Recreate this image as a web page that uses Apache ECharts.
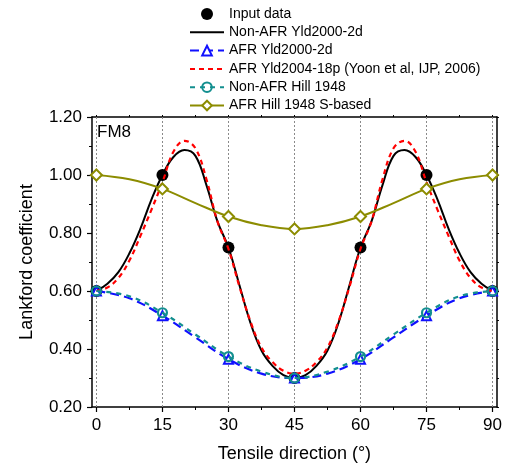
<!DOCTYPE html>
<html><head><meta charset="utf-8">
<script src="https://cdn.jsdelivr.net/npm/echarts@6/dist/echarts.min.js"></script>
<style>html,body{margin:0;padding:0;background:#fff}#c{width:505px;height:468px}</style>
</head><body><div id="c"></div>
<script>
// ---- data ----
const inputAngles = [0, 15, 30, 45, 60, 75, 90];
const inputValues = [0.60, 1.00, 0.75, 0.30, 0.75, 1.00, 0.60];

const fineAngles = [0, 2.5, 5, 7.5, 10, 12.5, 15, 17.5, 20, 22.5, 25, 27.5, 30, 32.5, 35, 37.5, 40, 42.5, 45,
  47.5, 50, 52.5, 55, 57.5, 60, 62.5, 65, 67.5, 70, 72.5, 75, 77.5, 80, 82.5, 85, 87.5, 90];
const nonAfrYld2000 = [0.600, 0.625, 0.665, 0.730, 0.815, 0.915, 1.000, 1.062, 1.086, 1.066, 0.965, 0.840, 0.750, 0.620, 0.490, 0.395, 0.342, 0.310, 0.300,
  0.310, 0.342, 0.395, 0.490, 0.620, 0.750, 0.840, 0.965, 1.066, 1.086, 1.062, 1.000, 0.915, 0.815, 0.730, 0.665, 0.625, 0.600];
const afrYld2004 = [0.600, 0.612, 0.645, 0.705, 0.790, 0.880, 0.975, 1.080, 1.118, 1.092, 0.985, 0.840, 0.745, 0.615, 0.495, 0.405, 0.355, 0.325, 0.315,
  0.325, 0.355, 0.405, 0.495, 0.615, 0.745, 0.840, 0.985, 1.092, 1.118, 1.080, 0.975, 0.880, 0.790, 0.705, 0.645, 0.612, 0.600];

const coarseAngles = [0, 7.5, 15, 22.5, 30, 37.5, 45, 52.5, 60, 67.5, 75, 82.5, 90];
const afrYld2000 = [0.600, 0.575, 0.515, 0.440, 0.365, 0.315, 0.300, 0.315, 0.365, 0.440, 0.515, 0.575, 0.600];
const nonAfrHill = [0.600, 0.582, 0.525, 0.450, 0.374, 0.322, 0.300, 0.322, 0.374, 0.450, 0.525, 0.582, 0.600];
const afrHillS = [1.000, 0.985, 0.952, 0.903, 0.857, 0.827, 0.814, 0.827, 0.857, 0.903, 0.952, 0.985, 1.000];

const xMajorTicks = [0, 15, 30, 45, 60, 75, 90];
const xMinorTicks = [7.5, 22.5, 37.5, 52.5, 67.5, 82.5];
const xTopTicks = [0, 7.5, 15, 22.5, 30, 37.5, 45, 52.5, 60, 67.5, 75, 82.5, 90];

// ---- build ----
const FONT = '"Liberation Sans", Arial, sans-serif';
function pairs(xs, ys) { return xs.map((x, i) => [x, ys[i]]); }
function markedPairs(xs, ys) {
  return xs.map((x, i) => (inputAngles.indexOf(x) >= 0) ? { value: [x, ys[i]] } : { value: [x, ys[i]], symbol: 'none' });
}
const hiddenSym = { color: 'rgba(0,0,0,0)', borderColor: 'rgba(0,0,0,0)', borderWidth: 0, opacity: 0 };

const chart = echarts.init(document.getElementById('c'), null, { renderer: 'canvas' });
chart.setOption({
  animation: false,
  backgroundColor: '#fff',
  textStyle: { fontFamily: FONT },
  grid: { left: 92, right: 8, top: 117, bottom: 60 },
  graphic: [{ type: 'text', left: 97, top: 124, style: { text: 'FM8', font: '17px ' + FONT, fill: '#000' } }],
  legend: {
    orient: 'vertical', left: 184, top: 2, itemWidth: 34, itemHeight: 12, itemGap: 4.3,
    textStyle: { fontSize: 14, color: '#000', fontFamily: FONT },
    data: [
      { name: 'Input data', itemStyle: { opacity: 1 } },
      { name: 'Non-AFR Yld2000-2d', itemStyle: hiddenSym },
      'AFR Yld2000-2d',
      { name: 'AFR Yld2004-18p (Yoon et al, IJP, 2006)', itemStyle: hiddenSym },
      'Non-AFR Hill 1948',
      'AFR Hill 1948 S-based'
    ]
  },
  xAxis: [
    {
      type: 'value', min: -1, max: 91, position: 'bottom',
      name: 'Tensile direction (°)', nameLocation: 'middle', nameGap: 38,
      nameTextStyle: { fontSize: 18, color: '#000', fontFamily: FONT },
      axisLine: { show: true, onZero: false, lineStyle: { color: '#000', width: 1.5 } },
      axisTick: { show: true, customValues: xMajorTicks, length: 5, lineStyle: { color: '#000', width: 1.2 } },
      axisLabel: { show: true, customValues: xMajorTicks, fontSize: 17, color: '#000', margin: 10, fontFamily: FONT },
      splitLine: { show: false }
    },
    {
      type: 'value', min: -1, max: 91, position: 'bottom',
      axisLine: { show: false, onZero: false },
      axisTick: { show: true, customValues: xMinorTicks, length: 3, lineStyle: { color: '#000', width: 1 } },
      axisLabel: { show: false }, splitLine: { show: false }
    },
    {
      type: 'value', min: -1, max: 91, position: 'top',
      axisLine: { show: true, onZero: false, lineStyle: { color: '#000', width: 1.5 } },
      axisTick: { show: true, customValues: xTopTicks, length: 2, lineStyle: { color: '#000', width: 1 } },
      axisLabel: { show: false }, splitLine: { show: false }
    }
  ],
  yAxis: [
    {
      type: 'value', min: 0.2, max: 1.2, interval: 0.2, position: 'left',
      name: 'Lankford coefficient', nameLocation: 'middle', nameGap: 56,
      nameTextStyle: { fontSize: 18, color: '#000', fontFamily: FONT },
      axisLine: { show: true, onZero: false, lineStyle: { color: '#000', width: 1.5 } },
      axisTick: { show: true, length: 5, lineStyle: { color: '#000', width: 1.2 } },
      minorTick: { show: true, splitNumber: 2, length: 3, lineStyle: { color: '#000', width: 1 } },
      axisLabel: { fontSize: 17, color: '#000', margin: 10, fontFamily: FONT, formatter: v => v.toFixed(2) },
      splitLine: { show: false }
    },
    {
      type: 'value', min: 0.2, max: 1.2, interval: 0.1, position: 'right',
      axisLine: { show: true, onZero: false, lineStyle: { color: '#000', width: 1.5 } },
      axisTick: { show: true, length: 2, lineStyle: { color: '#000', width: 1 } },
      axisLabel: { show: false }, splitLine: { show: false }
    }
  ],
  series: [
    {
      name: 'Input data', type: 'scatter', data: pairs(inputAngles, inputValues),
      symbol: 'circle', symbolSize: 12, itemStyle: { color: '#000', opacity: 1 }, z: 3,
      markLine: {
        silent: true, symbol: 'none', label: { show: false }, z: 1,
        lineStyle: { color: '#8a8a8a', type: [2, 2], width: 1 },
        data: xMajorTicks.map(v => ({ xAxis: v }))
      }
    },
    {
      name: 'Non-AFR Yld2000-2d', type: 'line', data: pairs(fineAngles, nonAfrYld2000),
      smooth: 0.4, symbol: 'none', lineStyle: { color: '#000', width: 2 }, itemStyle: { color: '#000' }, z: 4
    },
    {
      name: 'AFR Yld2000-2d', type: 'line', data: markedPairs(coarseAngles, afrYld2000),
      smooth: 0.4, symbol: 'triangle', symbolSize: 9, showAllSymbol: true,
      lineStyle: { color: '#1010ff', width: 2.2, type: [9, 5] },
      itemStyle: { color: '#fff', borderColor: '#1010ff', borderWidth: 2 }, z: 5
    },
    {
      name: 'AFR Yld2004-18p (Yoon et al, IJP, 2006)', type: 'line', data: pairs(fineAngles, afrYld2004),
      smooth: 0.4, symbol: 'none', lineStyle: { color: '#ff0000', width: 2.2, type: [5, 4] }, itemStyle: { color: '#ff0000' }, z: 6
    },
    {
      name: 'Non-AFR Hill 1948', type: 'line', data: markedPairs(coarseAngles, nonAfrHill),
      smooth: 0.4, symbol: 'circle', symbolSize: 9, showAllSymbol: true,
      lineStyle: { color: '#138f8f', width: 2.2, type: [5, 5] },
      itemStyle: { color: 'rgba(255,255,255,0)', borderColor: '#138f8f', borderWidth: 2.2 }, z: 7
    },
    {
      name: 'AFR Hill 1948 S-based', type: 'line', data: markedPairs(coarseAngles, afrHillS),
      smooth: 0.4, symbol: 'diamond', symbolSize: 11, showAllSymbol: true,
      lineStyle: { color: '#8c8c00', width: 2 },
      itemStyle: { color: '#fff', borderColor: '#8c8c00', borderWidth: 2 }, z: 8
    }
  ]
});
</script>
</body></html>
